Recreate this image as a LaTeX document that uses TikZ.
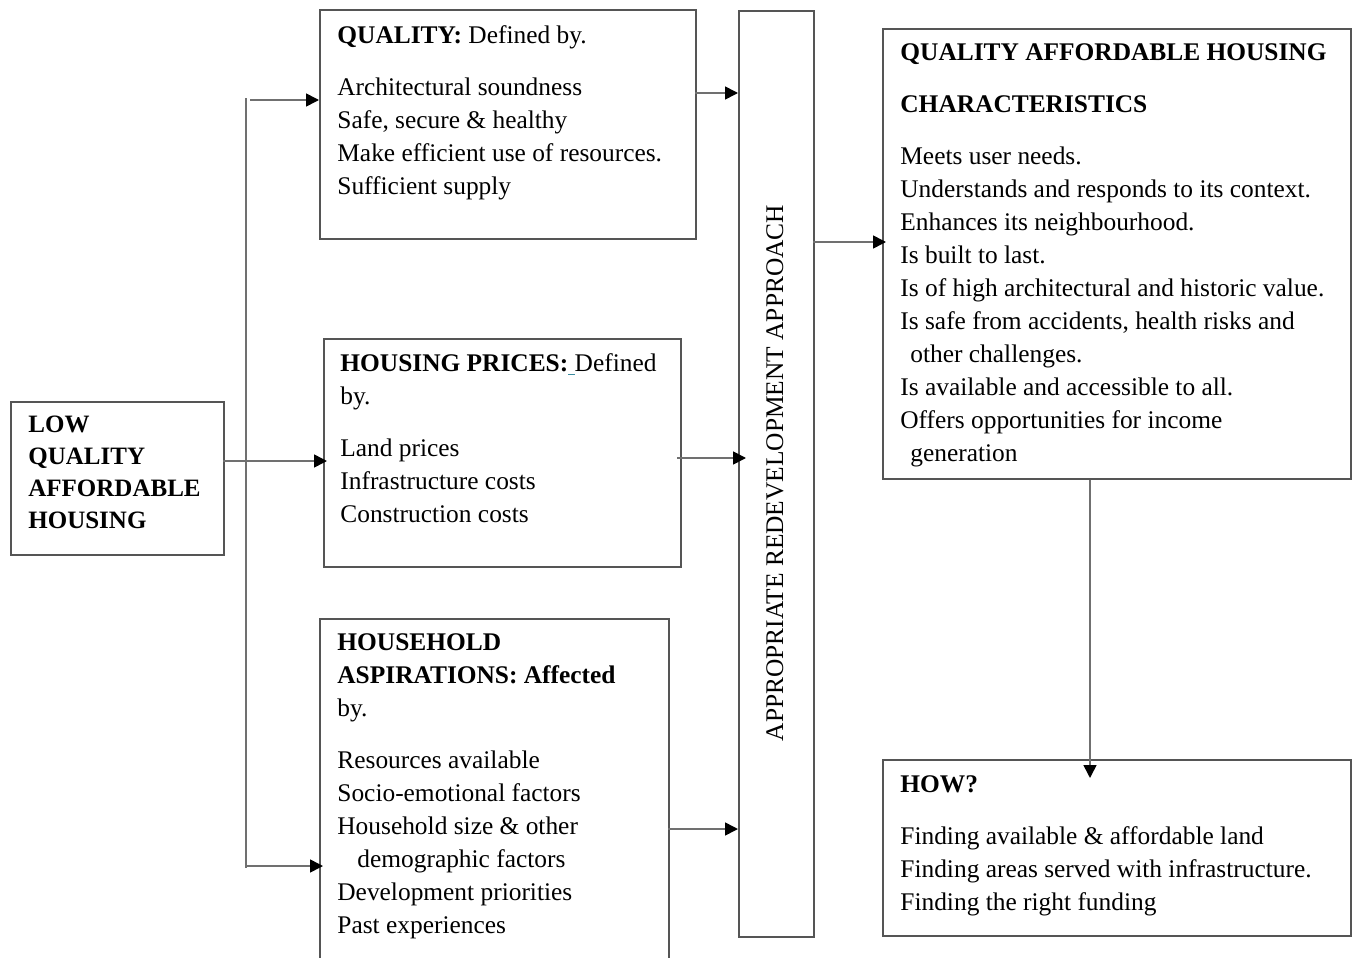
\documentclass[tikz,border=0pt]{standalone}
\usepackage{fontspec}
\setmainfont{Liberation Serif}
\usetikzlibrary{arrows.meta}
\definecolor{lineg}{HTML}{707070}
\definecolor{frameg}{HTML}{555555}
\definecolor{typoblue}{HTML}{3C8CA0}
\tikzset{
  framebox/.style={
    draw=frameg,
    line width=0.8pt,
    anchor=north west,
    inner sep=0pt
  },
  boxtext/.style={
    anchor=north west,
    inner sep=0pt,
    align=left,
    font=\fontsize{12.7}{16.5}\selectfont
  },
  flow/.style={-{Triangle[length=6.5pt,width=6.5pt,color=black]}, line width=0.8pt, draw=lineg},
  busline/.style={line width=0.8pt, draw=lineg}
}

\begin{document}
\begin{tikzpicture}[x=0.5pt,y=-0.5pt]
\clip (0,0) rectangle (1356,958);

% boxes
\node[framebox, minimum width=106.5pt, minimum height=76.5pt] (low) at (10,401) {};
\node[framebox, minimum width=188pt, minimum height=114.5pt] (quality) at (319,9) {};
\node[framebox, minimum width=178.5pt, minimum height=114pt] (prices) at (323,338) {};
\node[framebox, minimum width=174.5pt, minimum height=176pt] (aspire) at (319,618) {};
\node[framebox, minimum width=37.5pt, minimum height=463pt] (approach) at (738,10) {};
\node[framebox, minimum width=234pt, minimum height=225pt] (quah) at (882,28) {};
\node[framebox, minimum width=234pt, minimum height=88pt] (how) at (882,759) {};

% texts
\node[boxtext, font=\fontsize{12.5}{16}\selectfont\bfseries] (lowtext) at (28,416)
  {LOW\\QUALITY\\AFFORDABLE\\HOUSING};
\node[boxtext] (qualitytext) at (337,25)
  {\textbf{QUALITY:} Defined by.\\[9.5pt]
   Architectural soundness\\
   Safe, secure \& healthy\\
   Make efficient use of resources.\\
   Sufficient supply};
\node[boxtext] (pricestext) at (340,353)
  {\textbf{HOUSING PRICES:}\textcolor{typoblue}{\underline{\ }}Defined\\
   by.\\[9.5pt]
   Land prices\\
   Infrastructure costs\\
   Construction costs};
\node[boxtext] (aspiretext) at (337,633)
  {\textbf{HOUSEHOLD}\\
   \textbf{ASPIRATIONS: Affected}\\
   by.\\[9.5pt]
   Resources available\\
   Socio-emotional factors\\
   Household size \& other\\
   \hspace*{10pt}demographic factors\\
   Development priorities\\
   Past experiences};
\node[boxtext, anchor=center, rotate=90] (approachtext) at (775,473)
  {APPROPRIATE REDEVELOPMENT APPROACH};
\node[boxtext] (quahtext) at (900,43)
  {\textbf{QUALITY AFFORDABLE HOUSING}\\[9.5pt]
   \textbf{CHARACTERISTICS}\\[9.5pt]
   Meets user needs.\\
   Understands and responds to its context.\\
   Enhances its neighbourhood.\\
   Is built to last.\\
   Is of high architectural and historic value.\\
   Is safe from accidents, health risks and\\
   \hspace*{5pt}other challenges.\\
   Is available and accessible to all.\\
   Offers opportunities for income\\
   \hspace*{5pt}generation};
\node[boxtext] (howtext) at (900,775)
  {\textbf{HOW?}\\[9.5pt]
   Finding available \& affordable land\\
   Finding areas served with infrastructure.\\
   Finding the right funding};

% connectors
\coordinate (bustop) at (246,98);
\coordinate (busbot) at (246,868);
\coordinate (qin) at (250,100);
\coordinate (lowout) at (223,461);
\coordinate (aspin) at (246,866);
\coordinate (qout) at (695,93);
\coordinate (pout) at (677,458);
\coordinate (aout) at (668,829);
\coordinate (apout) at (813,242);
\coordinate (hin) at (1090,778);

\draw[busline] (bustop) -- (busbot);
\draw[flow] (qin) -- (qin -| quality.west);
\draw[flow] (lowout) -- ([xshift=2pt]lowout -| prices.west);
\draw[flow] (aspin) -- ([xshift=2pt]aspin -| aspire.west);
\draw[flow] (qout) -- (qout -| approach.west);
\draw[flow] (pout) -- ([xshift=4pt]pout -| approach.west);
\draw[flow] (aout) -- (aout -| approach.west);
\draw[flow] (apout) -- ([xshift=2pt]apout -| quah.west);
\draw[flow] (hin |- quah.south) -- (hin);
\end{tikzpicture}
\end{document}
